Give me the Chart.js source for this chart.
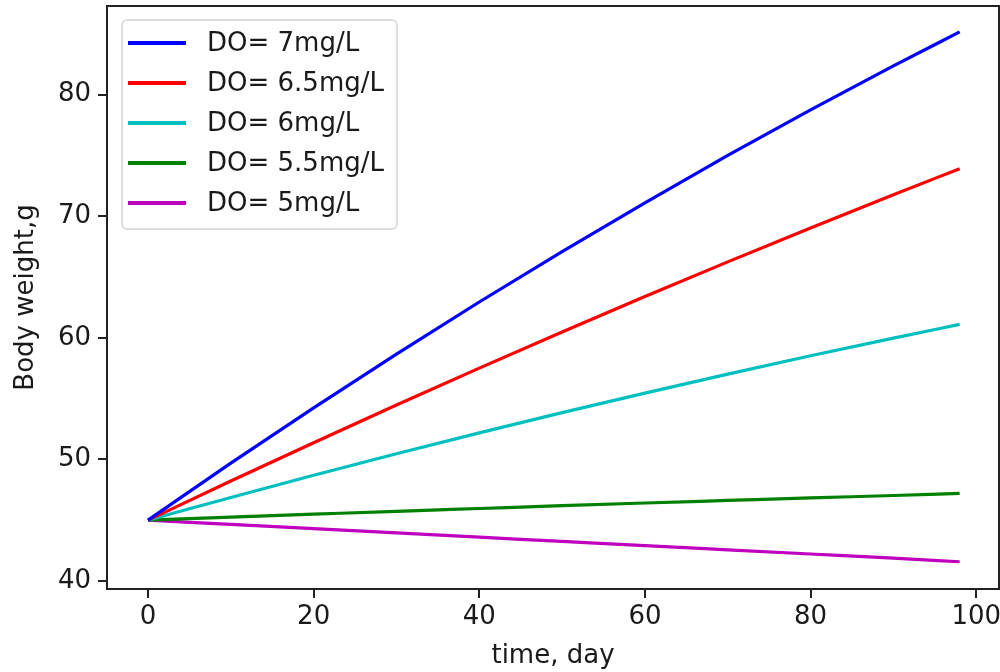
<!DOCTYPE html>
<html>
<head>
<meta charset="utf-8">
<script src="https://cdn.jsdelivr.net/npm/chart.js@4.4.1/dist/chart.umd.min.js"></script>
<style>
  html, body { margin: 0; padding: 0; background: #fff; }
  #wrap { width: 1000px; height: 672px; position: relative; }
</style>
</head>
<body>
<div id="wrap"><canvas id="chart" width="1000" height="672"></canvas></div>
<script>
// values
const days = [0, 10, 20, 30, 40, 50, 60, 70, 80, 90, 98];
const do7 = [45, 49.69, 54.24, 58.65, 62.94, 67.09, 71.10, 74.99, 78.74, 82.35, 85.15];
const do65 = [45, 48.22, 51.37, 54.47, 57.50, 60.48, 63.39, 66.24, 69.03, 71.76, 73.90];
const do6 = [45, 46.87, 48.69, 50.46, 52.18, 53.84, 55.45, 57.01, 58.52, 59.97, 61.10];
const do55 = [45, 45.25, 45.49, 45.73, 45.96, 46.19, 46.41, 46.62, 46.83, 47.03, 47.20];
const do5 = [45, 44.65, 44.30, 43.95, 43.60, 43.25, 42.90, 42.56, 42.22, 41.88, 41.58];

const seriesLabels = ['DO= 7mg/L', 'DO= 6.5mg/L', 'DO= 6mg/L', 'DO= 5.5mg/L', 'DO= 5mg/L'];
const seriesColors = ['#0000ff', '#ff0000', '#00bfbf', '#008000', '#bf00bf'];
const allSeries = [do7, do65, do6, do55, do5];

const xTickValues = [0, 20, 40, 60, 80, 100];
const yTickValues = [40, 50, 60, 70, 80];

const FONT = 'DejaVu Sans';
const TEXT = '#1a1a1a';

const datasets = allSeries.map((vals, i) => ({
    label: seriesLabels[i],
    data: vals.map((v, j) => ({ x: days[j], y: v })),
    borderColor: seriesColors[i],
    backgroundColor: seriesColors[i],
    borderWidth: 3.2,
    pointRadius: 0,
    fill: false,
    cubicInterpolationMode: 'monotone'
}));

// top/right spines, matplotlib style
const framePlugin = {
    id: 'frame',
    afterDraw(chart) {
        const { ctx, chartArea: a } = chart;
        ctx.save();
        ctx.strokeStyle = '#222';
        ctx.lineWidth = 2;
        ctx.beginPath();
        ctx.moveTo(a.left, a.top);
        ctx.lineTo(a.right, a.top);
        ctx.lineTo(a.right, a.bottom);
        ctx.stroke();
        ctx.restore();
    }
};

// boxed legend in the upper left corner
const boxLegend = {
    id: 'boxLegend',
    afterDraw(chart) {
        const { ctx, chartArea: a } = chart;
        const sets = chart.data.datasets;
        ctx.save();
        ctx.font = '26px "' + FONT + '"';
        const maxW = Math.max(...sets.map(d => ctx.measureText(d.label).width));
        const x0 = a.left + 15, y0 = a.top + 14;
        const textOff = 85, rowH = 40;
        const w = textOff + maxW + 13, h = rowH * sets.length + 9;
        ctx.fillStyle = 'rgba(255,255,255,0.85)';
        ctx.strokeStyle = '#d4d4d4';
        ctx.lineWidth = 1.5;
        ctx.beginPath();
        ctx.roundRect(x0, y0, w, h, 5);
        ctx.fill();
        ctx.stroke();
        sets.forEach((d, i) => {
            const cy = y0 + 23 + i * rowH;
            ctx.strokeStyle = d.borderColor;
            ctx.lineWidth = 4;
            ctx.beginPath();
            ctx.moveTo(x0 + 6, cy);
            ctx.lineTo(x0 + 64, cy);
            ctx.stroke();
            ctx.fillStyle = TEXT;
            ctx.textBaseline = 'middle';
            ctx.fillText(d.label, x0 + textOff, cy + 1);
        });
        ctx.restore();
    }
};

new Chart(document.getElementById('chart'), {
    type: 'line',
    data: { datasets },
    options: {
        responsive: false,
        animation: false,
        layout: { padding: { top: 6, right: 1, left: 0, bottom: 0 } },
        plugins: {
            legend: { display: false },
            tooltip: { enabled: false }
        },
        scales: {
            x: {
                type: 'linear',
                min: -4.95,
                max: 102.75,
                afterBuildTicks: s => { s.ticks = xTickValues.map(v => ({ value: v })); },
                afterFit: s => { s.height = 83; s.paddingLeft = 0; s.paddingRight = 0; },
                border: { display: true, color: '#222', width: 2 },
                grid: { drawOnChartArea: false, drawTicks: true, tickLength: 9, tickColor: '#222', lineWidth: 2 },
                ticks: { color: TEXT, font: { family: FONT, size: 26 }, padding: 4, maxRotation: 0 },
                title: { display: true, text: 'time, day', color: TEXT, font: { family: FONT, size: 26 }, padding: { top: 0, bottom: 0 } }
            },
            y: {
                type: 'linear',
                min: 39.34,
                max: 87.28,
                afterBuildTicks: s => { s.ticks = yTickValues.map(v => ({ value: v })); },
                afterFit: s => { s.width = 107; s.paddingTop = 0; s.paddingBottom = 0; },
                border: { display: true, color: '#222', width: 2 },
                grid: { drawOnChartArea: false, drawTicks: true, tickLength: 9, tickColor: '#222', lineWidth: 2 },
                ticks: { color: TEXT, font: { family: FONT, size: 26 }, padding: 7 },
                title: { display: true, text: 'Body weight,g', color: TEXT, font: { family: FONT, size: 26 }, padding: { top: 11, bottom: 0 } }
            }
        }
    },
    plugins: [framePlugin, boxLegend]
});
</script>
</body>
</html>
